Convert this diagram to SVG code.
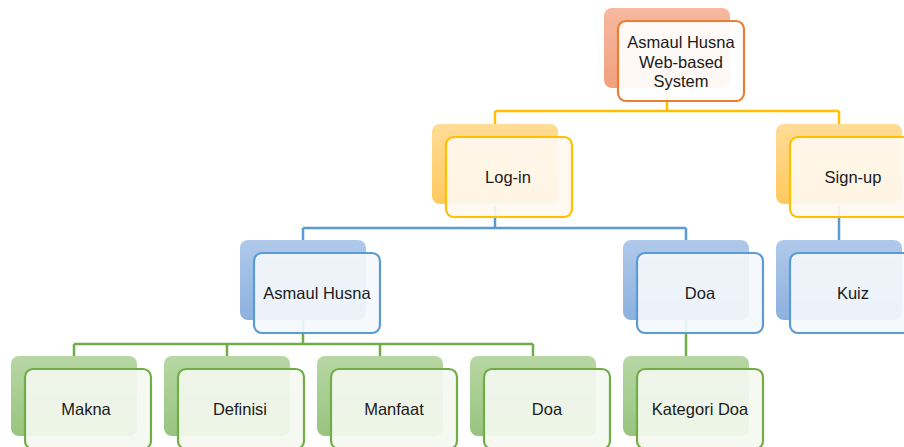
<svg xmlns="http://www.w3.org/2000/svg" width="904" height="447" viewBox="0 0 904 447">
<defs>
<linearGradient id="gO" x1="0" y1="0" x2="0" y2="1"><stop offset="0" stop-color="#f6b9a0"/><stop offset="1" stop-color="#f0a07f"/></linearGradient>
<linearGradient id="gY" x1="0" y1="0" x2="0" y2="1"><stop offset="0" stop-color="#ffdc97"/><stop offset="1" stop-color="#ffc95e"/></linearGradient>
<linearGradient id="gB" x1="0" y1="0" x2="0" y2="1"><stop offset="0" stop-color="#b0c9ea"/><stop offset="1" stop-color="#8db1df"/></linearGradient>
<linearGradient id="gG" x1="0" y1="0" x2="0" y2="1"><stop offset="0" stop-color="#b7d7a4"/><stop offset="1" stop-color="#98c47f"/></linearGradient>
</defs>
<style>
.back{rx:8;ry:8;width:126px;height:80px}
.front{rx:8;ry:8;width:126px;height:80px;stroke-width:2.2;fill-opacity:0.92}
.o .back{fill:url(#gO)} .o .front{fill:#ffffff;stroke:#ed7d31}
.y .back{fill:url(#gY)} .y .front{fill:#fff9f0;stroke:#ffc000}
.b .back{fill:url(#gB)} .b .front{fill:#f4f7fc;stroke:#5b9bd5}
.g .back{fill:url(#gG)} .g .front{fill:#f4f8f0;stroke:#70ad47}
text{font-family:"Liberation Sans","Noto Sans",sans-serif;font-size:16.5px;fill:#1a1a1a;text-anchor:middle;dominant-baseline:central}
.c{fill:none;stroke-width:2.5}
</style>
<g id="connectors">
<path class="c" stroke="#ffc000" d="M667 90V111M495 111H839M495 111V126M839 111V126"/>
<path class="c" stroke="#5b9bd5" d="M495 205V228M303 228H686M303 228V242M686 228V242M839 205V242"/>
<path class="c" stroke="#70ad47" d="M303 320V344M74 344H533M74 344V358M227 344V358M380 344V358M533 344V358M686 320V358"/>
</g>
<g id="n-system" class="o"><rect class="back" x="604" y="8"/><rect class="front" x="618" y="21"/>
<text x="681" y="42">Asmaul Husna</text><text x="681" y="61.5">Web-based</text><text x="681" y="81">System</text></g>
<g id="n-login" class="y"><rect class="back" x="432" y="124"/><rect class="front" x="446" y="137"/><text x="508" y="177">Log-in</text></g>
<g id="n-signup" class="y"><rect class="back" x="776" y="124"/><rect class="front" x="790" y="137"/><text x="853" y="177">Sign-up</text></g>
<g id="n-asmaul" class="b"><rect class="back" x="240" y="240"/><rect class="front" x="254" y="253"/><text x="317" y="293">Asmaul Husna</text></g>
<g id="n-doa" class="b"><rect class="back" x="623" y="240"/><rect class="front" x="637" y="253"/><text x="700" y="293">Doa</text></g>
<g id="n-kuiz" class="b"><rect class="back" x="776" y="240"/><rect class="front" x="790" y="253"/><text x="853" y="293">Kuiz</text></g>
<g id="n-makna" class="g"><rect class="back" x="11" y="356"/><rect class="front" x="25" y="369"/><text x="86" y="409">Makna</text></g>
<g id="n-definisi" class="g"><rect class="back" x="164" y="356"/><rect class="front" x="178" y="369"/><text x="240" y="409">Definisi</text></g>
<g id="n-manfaat" class="g"><rect class="back" x="317" y="356"/><rect class="front" x="331" y="369"/><text x="394" y="409">Manfaat</text></g>
<g id="n-doa2" class="g"><rect class="back" x="470" y="356"/><rect class="front" x="484" y="369"/><text x="547" y="409">Doa</text></g>
<g id="n-kategori" class="g"><rect class="back" x="623" y="356"/><rect class="front" x="637" y="369"/><text x="700" y="409">Kategori Doa</text></g>
</svg>
